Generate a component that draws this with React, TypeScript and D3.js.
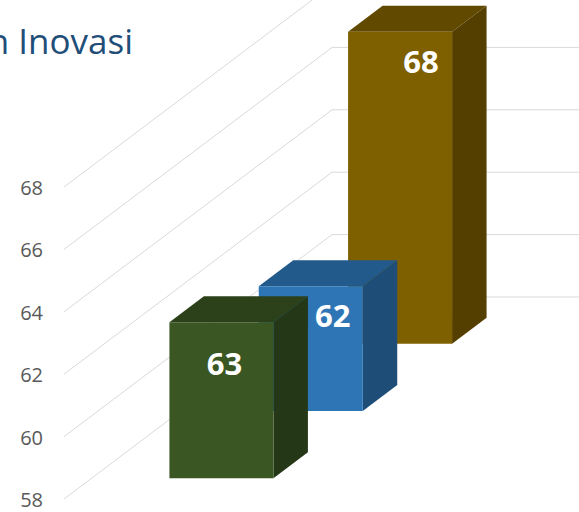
import React from 'react'
import { scaleLinear, scaleBand, range } from 'd3'

// chart values
const categories = ['Inovasi']
const seriesNames = ['Seri 1', 'Seri 2', 'Seri 3']
const seriesValues = [63, 62, 68]
const yTicks = [58, 60, 62, 64, 66, 68]
const titleText = 'Kemampuan Inovasi'

const faceColors = [
  { front: '#3a5622', top: '#2c411a', side: '#243817' },
  { front: '#2e75b6', top: '#225a8b', side: '#1e4d78' },
  { front: '#7f6000', top: '#614900', side: '#553f00' },
]

export default function App() {
  const width = 579
  const height = 512

  // oblique depth vector (front plane -> back wall)
  const depthX = 268
  const depthY = -202

  const yScale = scaleLinear().domain([58, 68]).range([499, 187])
  const xScale = scaleBand()
    .domain(categories)
    .range([64, 324])
    .paddingInner(0.6)
    .paddingOuter(0.3)
  const zScale = scaleBand()
    .domain(seriesNames)
    .range([0, 1])
    .paddingInner(0.614)
    .paddingOuter(0.307)

  const proj = (x: number, v: number, t: number): [number, number] => [
    x + t * depthX,
    yScale(v) + t * depthY,
  ]
  const pts = (p: [number, number][]) => p.map(d => d.join(',')).join(' ')

  const base = yScale.domain()[0]
  const x0 = xScale(categories[0]) as number
  const x1 = x0 + xScale.bandwidth()

  // label nudges (Excel 3D label placement)
  const labelNudge = [
    [3, 53],
    [22, 41],
    [21, 41],
  ]

  const bars = range(seriesNames.length).map(i => {
    const v = seriesValues[i]
    const t0 = zScale(seriesNames[i]) as number
    const t1 = t0 + zScale.bandwidth()
    const c = faceColors[i]
    const fTL = proj(x0, v, t0)
    const fTR = proj(x1, v, t0)
    const fBR = proj(x1, base, t0)
    const fBL = proj(x0, base, t0)
    const bTL = proj(x0, v, t1)
    const bTR = proj(x1, v, t1)
    const bBR = proj(x1, base, t1)
    return (
      <g key={seriesNames[i]}>
        <polygon points={pts([fTL, fTR, bTR, bTL])} fill={c.top} />
        <polygon points={pts([fTR, bTR, bBR, fBR])} fill={c.side} />
        <polygon points={pts([fTL, fTR, fBR, fBL])} fill={c.front} />
        <text
          x={(fTL[0] + fTR[0]) / 2 + labelNudge[i][0]}
          y={fTL[1] + labelNudge[i][1]}
          textAnchor="middle"
          fontFamily="'Open Sans', sans-serif"
          fontWeight="bold"
          fontSize={31}
          fill="#ffffff"
        >
          {v}
        </text>
      </g>
    )
  })

  return (
    <svg
      width={width}
      height={height}
      style={{ position: 'absolute', left: 0, top: 0, background: '#ffffff' }}
    >
      <text
        x={133}
        y={54}
        textAnchor="end"
        fontFamily="'Open Sans', sans-serif"
        fontSize={35}
        fill="#1f4e79"
      >
        {titleText}
      </text>
      <g>
        {yTicks.map(t => {
          const a = proj(64, t, 0)
          const b = proj(64, t, 1)
          return (
            <g key={t}>
              <polyline
                points={pts([a, b, [width + 20, b[1]]])}
                fill="none"
                stroke="#d9d9d9"
                strokeWidth={1}
              />
              <text
                x={43}
                y={a[1] + 8}
                textAnchor="end"
                fontFamily="'Open Sans', sans-serif"
                fontSize={20}
                fill="#595959"
              >
                {t}
              </text>
            </g>
          )
        })}
      </g>
      {/* back to front so nearer bars cover farther ones */}
      {bars.slice().reverse()}
    </svg>
  )
}
